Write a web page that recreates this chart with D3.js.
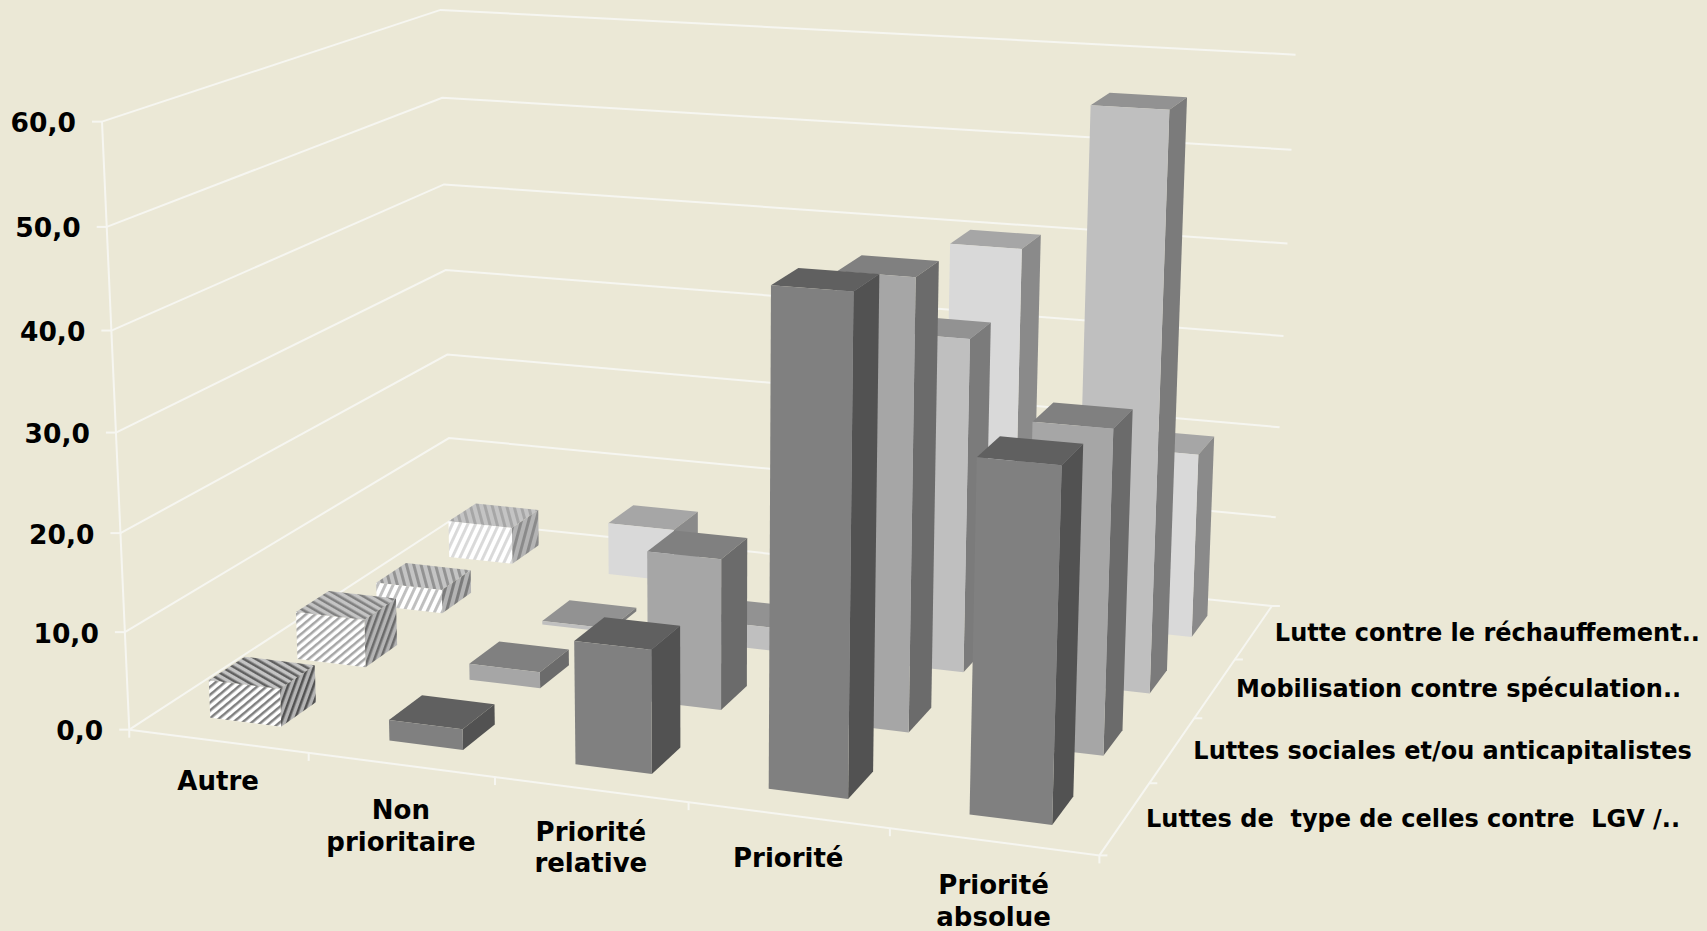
<!DOCTYPE html>
<html>
<head>
<meta charset="utf-8">
<script src="https://cdn.jsdelivr.net/npm/d3@7"></script>
<style>
  body { margin: 0; background: #ebe8d6; }
  text { font-family: "DejaVu Sans", sans-serif; font-weight: bold; fill: #000; white-space: pre; }
</style>
</head>
<body>
<div id="chart"></div>
<script>
// Data
const categories = ["Autre", "Non prioritaire", "Priorité relative", "Priorité", "Priorité absolue"];
const categoryLines = [["Autre"], ["Non", "prioritaire"], ["Priorité", "relative"], ["Priorité"], ["Priorité", "absolue"]];
const seriesNames = [
  "Luttes de  type de celles contre  LGV /..",
  "Luttes sociales et/ou anticapitalistes",
  "Mobilisation contre spéculation..",
  "Lutte contre le réchauffement.."
];
const luttesLgv = [3.9, 2.1, 12.3, 48.0, 33.8];
const luttesSociales = [5.1, 1.7, 15.6, 45.3, 32.3];
const mobilisation = [2.6, 0.4, 2.5, 35.0, 59.2];
const rechauffement = [4.2, 5.9, 5.0, 40.3, 19.9];
const seriesValues = [luttesLgv, luttesSociales, mobilisation, rechauffement];
const yTicks = [0, 10, 20, 30, 40, 50, 60];

const width = 1707;
const height = 931;

// Colours per series, front to back
const frontColors = ["#808080", "#a6a6a6", "#bfbfbf", "#d9d9d9"];
const rightColors = ["#525252", "#6b6b6b", "#7b7b7b", "#8a8a8a"];
const topColors = ["#606060", "#808080", "#929292", "#a6a6a6"];
const hatchLight = { front: "#ffffff", right: "#b4b4b4", top: "#c4c4c4" };
// stripe rotation per series for the "Autre" bars
const hatchAngles = [
  { front: 50, right: 20, top: -60 },
  { front: 50, right: 20, top: -60 },
  { front: 25, right: 15, top: -15 },
  { front: 25, right: 15, top: -15 }
];
const hatchPeriods = [6, 6, 7, 7];
// distance of each category label below the front edge
const categoryLabelGaps = [39, 45, 42, 43, 43];

// Camera fit: unit box corners (u, v, w) and where they land on the page
const calibration = [
  [0, 0, 0, 129, 729.3], [1, 0, 0, 1099.7, 855.3], [1, 1, 0, 1271.6, 606], [0, 1, 0, 451, 521],
  [0, 0, 1, 102, 122], [0, 1, 1, 440.7, 10], [1, 1, 1, 1295.5, 54.4],
  [0, 0, 5 / 6, 106.7, 227], [0, 1, 0.5, 445.3, 269.3], [1, 1, 0.5, 1283.6, 336.3]
];

function fitCamera(points) {
  const rows = [], rhs = [];
  points.forEach(([u, v, w, px, py]) => {
    const x = px / 1000, y = py / 1000;
    rows.push([u, v, w, 1, 0, 0, 0, 0, -x * u, -x * v, -x * w]); rhs.push(x);
    rows.push([0, 0, 0, 0, u, v, w, 1, -y * u, -y * v, -y * w]); rhs.push(y);
  });
  const n = 11;
  const m = d3.range(n).map(i => d3.range(n + 1).map(j =>
    d3.sum(rows, (r, k) => r[i] * (j < n ? r[j] : rhs[k]))));
  for (let i = 0; i < n; i++) {
    let best = i;
    for (let k = i + 1; k < n; k++) if (Math.abs(m[k][i]) > Math.abs(m[best][i])) best = k;
    [m[i], m[best]] = [m[best], m[i]];
    for (let k = 0; k < n; k++) {
      if (k === i) continue;
      const f = m[k][i] / m[i][i];
      for (let j = i; j <= n; j++) m[k][j] -= f * m[i][j];
    }
  }
  return m.map((r, i) => r[n] / r[i]);
}
const cam = fitCamera(calibration);

function project(u, v, w) {
  const d = cam[8] * u + cam[9] * v + cam[10] * w + 1;
  return [
    1000 * (cam[0] * u + cam[1] * v + cam[2] * w + cam[3]) / d,
    1000 * (cam[4] * u + cam[5] * v + cam[6] * w + cam[7]) / d
  ];
}

// Scales into the unit box
const gap = 0.6;
const xScale = d3.scaleBand().domain(categories).range([0, 1]).paddingInner(gap).paddingOuter(gap / 2);
const zScale = d3.scaleBand().domain(seriesNames).range([0, 1]).paddingInner(gap).paddingOuter(gap / 2);
const yScale = d3.scaleLinear().domain([0, 60]).range([0, 1]);
const yFormat = d3.formatLocale({ decimal: ",", thousands: " ", grouping: [3], currency: ["", ""] }).format(".1f");

const xCenter = c => xScale(c) + xScale.bandwidth() / 2;
const xEdges = d3.range(categories.length + 1).map(i => i / categories.length);
const zEdges = d3.range(seriesNames.length + 1).map(i => i / seriesNames.length);

const polygon = d3.line();
const svg = d3.select("#chart").append("svg")
  .attr("width", width)
  .attr("height", height)
  .style("display", "block");
const defs = svg.append("defs");

svg.append("rect").attr("width", width).attr("height", height).attr("fill", "#ebe8d6");

// Hatch patterns for the "Autre" bars
seriesNames.forEach((s, i) => {
  [["front", frontColors], ["right", rightColors], ["top", topColors]].forEach(([face, colors]) => {
    const p = hatchPeriods[i];
    const pat = defs.append("pattern")
      .attr("id", `hatch-${i}-${face}`)
      .attr("patternUnits", "userSpaceOnUse")
      .attr("width", p).attr("height", p)
      .attr("patternTransform", `rotate(${hatchAngles[i][face]})`);
    pat.append("rect").attr("width", p).attr("height", p).attr("fill", hatchLight[face]);
    pat.append("rect").attr("width", p * 0.42).attr("height", p).attr("fill", colors[i]);
  });
});

// Walls and floor
const gridColor = "#f6f6f1";
const grid = svg.append("g").attr("fill", "none").attr("stroke", gridColor).attr("stroke-width", 2);
yTicks.forEach(t => {
  const w = yScale(t);
  grid.append("path").attr("d", polygon([project(0, 0, w), project(0, 1, w), project(1, 1, w)]));
  const [tx, ty] = project(0, 0, w);
  grid.append("path").attr("d", polygon([[tx - 10, ty], [tx, ty]]));
});
grid.append("path").attr("d", polygon([project(0, 0, 0), project(0, 0, 1)]));
grid.append("path").attr("d", polygon([project(0, 0, 0), project(1, 0, 0), project(1, 1, 0)]));
xEdges.forEach(u => {
  const [tx, ty] = project(u, 0, 0);
  grid.append("path").attr("d", polygon([[tx, ty], [tx, ty + 8]]));
});
zEdges.forEach(v => {
  const [tx, ty] = project(1, v, 0);
  grid.append("path").attr("d", polygon([[tx, ty], [tx + 8, ty]]));
});

// Bars, back row first, left to right inside a row
const bars = [];
seriesNames.forEach((s, si) => categories.forEach((c, ci) => {
  bars.push({ s, si, c, ci, value: seriesValues[si][ci] });
}));
const barOrder = d3.sort(bars, (a, b) => d3.descending(a.si, b.si) || d3.ascending(a.ci, b.ci));

function barFaces(d) {
  const x0 = xScale(d.c), x1 = x0 + xScale.bandwidth();
  const z0 = zScale(d.s), z1 = z0 + zScale.bandwidth();
  const h = yScale(d.value);
  const fill = (face, colors) => d.ci === 0 ? `url(#hatch-${d.si}-${face})` : colors[d.si];
  return [
    { fill: fill("top", topColors), pts: [[x0, z0, h], [x1, z0, h], [x1, z1, h], [x0, z1, h]] },
    { fill: fill("right", rightColors), pts: [[x1, z0, 0], [x1, z1, 0], [x1, z1, h], [x1, z0, h]] },
    { fill: fill("front", frontColors), pts: [[x0, z0, 0], [x1, z0, 0], [x1, z0, h], [x0, z0, h]] }
  ];
}

svg.append("g")
  .selectAll("g")
  .data(barOrder)
  .join("g")
  .selectAll("path")
  .data(barFaces)
  .join("path")
  .attr("d", f => polygon(f.pts.map(p => project(p[0], p[1], p[2]))) + "Z")
  .attr("fill", f => f.fill);

// Value labels
svg.append("g")
  .selectAll("text")
  .data(yTicks)
  .join("text")
  .attr("x", t => project(0, 0, yScale(t))[0] - 26)
  .attr("y", t => project(0, 0, yScale(t))[1] + 1)
  .attr("dy", "0.36em")
  .attr("text-anchor", "end")
  .attr("font-size", 26.5)
  .text(yFormat);

// Category labels, below the front edge
const catLabels = svg.append("g")
  .selectAll("text")
  .data(categories)
  .join("text")
  .attr("text-anchor", "middle")
  .attr("font-size", 26);
catLabels.selectAll("tspan")
  .data((c, i) => categoryLines[i].map((line, k) => ({ c, i, line, k })))
  .join("tspan")
  .attr("x", d => project(xCenter(d.c), 0, 0)[0])
  .attr("y", d => project(xCenter(d.c), 0, 0)[1] + categoryLabelGaps[d.i] + d.k * 31.5)
  .attr("dy", "0.36em")
  .text(d => d.line);

// Series labels, beside the right edge
svg.append("g")
  .selectAll("text")
  .data(seriesNames)
  .join("text")
  .attr("x", (s, i) => project(1, (zEdges[i] + zEdges[i + 1]) / 2, 0)[0] + 21)
  .attr("y", (s, i) => project(1, (zEdges[i] + zEdges[i + 1]) / 2, 0)[1])
  .attr("dy", "0.36em")
  .attr("font-size", 24)
  .text(s => s);
</script>
</body>
</html>
